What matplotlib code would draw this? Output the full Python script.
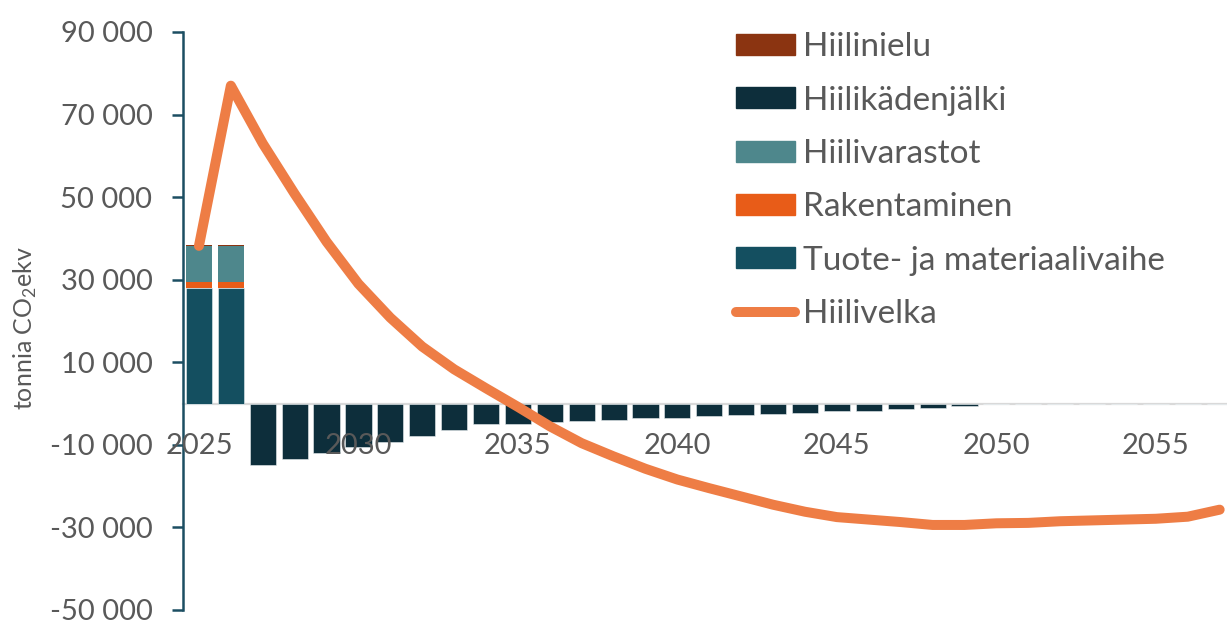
import matplotlib
matplotlib.use("Agg")
import matplotlib.pyplot as plt
from matplotlib.patches import Patch
from matplotlib.lines import Line2D
from matplotlib.ticker import FuncFormatter
import numpy as np

plt.rcParams['font.family'] = ['Lato', 'DejaVu Sans']
plt.rcParams['mathtext.fontset'] = 'custom'
plt.rcParams['mathtext.rm'] = 'Lato'

years = list(range(2025, 2058))

tuote = [28100, 28100] + [0] * 31
rakentaminen = [1300, 1300] + [0] * 31
hiilivarastot = [8700, 8700] + [0] * 31
hiilinielu = [300, 300] + [0] * 31
kadenjalki = [0, 0,
              -14800, -13500, -12000, -10600, -9200, -7800, -6400, -4900,
              -4900, -4400, -4200, -3900, -3500, -3500, -3100, -2800,
              -2500, -2200, -1800, -1700, -1400, -1000, -500,
              0, 0, 0, 0, 0, 0, 0, 0]
hiilivelka = [38200, 77000, 63000, 50800, 39200, 29000, 20800, 13800,
              8300, 3700, -800, -5500, -9600, -12800, -15800, -18400,
              -20500, -22500, -24500, -26200, -27500, -28100, -28700,
              -29400, -29400, -29000, -28900, -28500, -28300, -28100,
              -27900, -27400, -25700]

series_names = ["Hiilinielu", "Hiilikädenjälki", "Hiilivarastot",
                "Rakentaminen", "Tuote- ja materiaalivaihe", "Hiilivelka"]

c_tuote = '#144f60'
c_rak = '#e85c18'
c_var = '#4e878c'
c_nielu = '#8b3411'
c_kad = '#0d2e3b'
c_line = '#ee7d45'
c_text = '#595959'
c_axis = '#1c4e62'

fig = plt.figure(figsize=(12.27, 6.24), dpi=100)
ax = fig.add_axes([183 / 1227, 1 - 610 / 624, 1 - 183 / 1227, (610 - 32) / 624])

x = np.arange(len(years))
w = 0.82
ec = dict(edgecolor='#e8eef0', linewidth=0.4)
b0 = np.array(tuote, dtype=float)
b1 = b0 + np.array(rakentaminen)
b2 = b1 + np.array(hiilivarastot)
ax.bar(x, tuote, w, color=c_tuote, zorder=2, **ec)
ax.bar(x, rakentaminen, w, bottom=b0, color=c_rak, zorder=2, linewidth=0)
ax.bar(x, hiilivarastot, w, bottom=b1, color=c_var, zorder=2, linewidth=0)
ax.bar(x, hiilinielu, w, bottom=b2, color=c_nielu, zorder=2, linewidth=0)
ax.bar(x, kadenjalki, w, color=c_kad, zorder=2, **ec)
ax.plot(x, hiilivelka, color=c_line, lw=7.2, solid_capstyle='round',
        solid_joinstyle='round', zorder=4)

ax.set_xlim(-0.5, 32.23)
ax.set_ylim(-50000, 90000)
ax.set_yticks(np.arange(-50000, 90001, 20000))
ax.yaxis.set_major_formatter(FuncFormatter(lambda v, p: f"{v:,.0f}".replace(",", " ")))

for s in ['top', 'right']:
    ax.spines[s].set_visible(False)
ax.spines['left'].set_color(c_axis)
ax.spines['left'].set_linewidth(1.8)
ax.spines['bottom'].set_position(('data', 0))
ax.spines['bottom'].set_color('#d9d9d9')
ax.spines['bottom'].set_linewidth(1.6)
ax.spines['bottom'].set_zorder(1)

ax.tick_params(axis='y', direction='out', length=8, width=1.8, color=c_axis,
               labelsize=21, labelcolor=c_text, pad=14)
xt = [0, 5, 10, 15, 20, 25, 30]
ax.set_xticks(xt)
ax.set_xticklabels([str(years[i]) for i in xt])
ax.tick_params(axis='x', length=0, labelsize=21, labelcolor=c_text, pad=21)
ax.xaxis.set_zorder(3)

fig.text(25 / 1227, 1 - 328 / 624, r"tonnia CO$_\mathregular{2}$ekv", rotation=90,
         ha='center', va='center', fontsize=18, color=c_text)

handles = [Patch(color=c_nielu), Patch(color=c_kad), Patch(color=c_var),
           Patch(color=c_rak), Patch(color=c_tuote),
           Line2D([0], [0], color=c_line, lw=7.2, solid_capstyle='round')]
leg = fig.legend(handles, series_names, loc='upper left',
                 bbox_to_anchor=(723 / 1227, 1 - 19 / 624), frameon=False,
                 fontsize=24, handlelength=1.77, handleheight=0.6,
                 handletextpad=0.24, labelspacing=0.70, borderaxespad=0)
for t in leg.get_texts():
    t.set_color(c_text)

fig.savefig("out.png", dpi=100)
